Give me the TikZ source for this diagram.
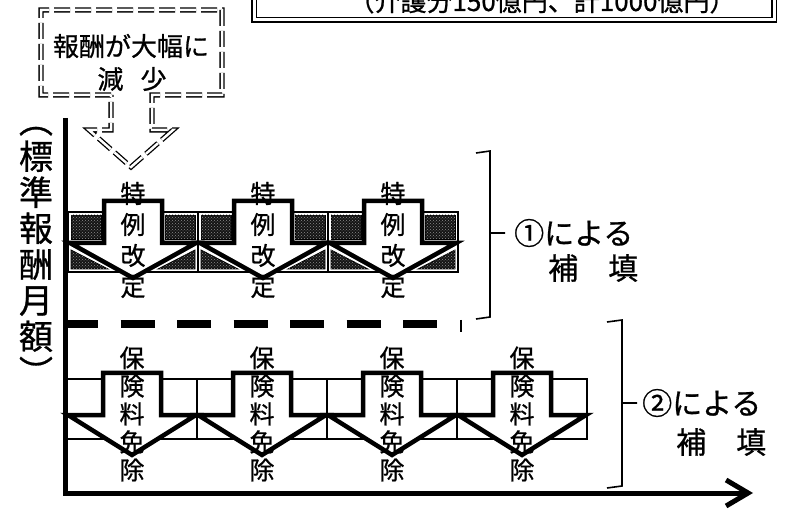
\documentclass[tikz,border=0pt]{standalone}
\usepackage{fontspec}
\setmainfont{Noto Sans CJK JP}[FakeBold=0.8]
\usetikzlibrary{arrows.meta, patterns}

\begin{document}
\begin{tikzpicture}[
  x=1pt, y=-1pt,
  arrowshape/.style={draw, fill=white, line width=4.5pt, line join=miter},
  cellline/.style={draw, line width=1.2pt},
  darkcell/.style={draw, line width=0.8pt, fill=black!92, postaction={pattern=crosshatch dots, pattern color=black!45}},
  vtext/.style={align=center, inner sep=0pt, font=\fontsize{25}{31}\selectfont},
  vtextb/.style={align=center, inner sep=0pt, font=\fontsize{25}{28}\selectfont},
  dashbox/.style={double, double distance=2.5pt, line width=1.3pt, dash pattern=on 16pt off 5pt},
  sidetxt/.style={anchor=west, inner sep=0pt, font=\fontsize{30}{30}\selectfont},
  brk/.style={line width=1.6pt}
]
\useasboundingbox (0,0) rectangle (787,510);
\clip (0,0) rectangle (787,510);

% 上の枠（見切れ）
\draw[double, double distance=3pt, line width=1.5pt] (254,-30) rectangle (774,20);
\node[anchor=base, inner sep=0pt, font=\fontsize{26}{26}\selectfont] (kei) at (542,11) {（介護分150億円、計1000億円）};

% 報酬が大幅に減少
\draw[dashbox] (111,95) -- (41,95) -- (41,10) -- (222,10) -- (222,95) -- (152,95) -- (152,130)
  -- (173,130) -- (131,167) -- (89,130) -- (111,130) -- cycle;
\node[font=\fontsize{26}{26}\selectfont] (genshou) at (131,46) {報酬が大幅に};
\node[font=\fontsize{26}{26}\selectfont] (gen) at (132,79) {減\hspace{17pt}少};

% ①による補填
\foreach \x/\n in {68/1,198/2,328/3}{
  \draw[cellline] (\x,212) rectangle (\x+130,272) (\x,242) -- (\x+130,242);
  \path[darkcell] (\x+3,215) rectangle (\x+33,239);
  \path[darkcell] (\x+97,215) rectangle (\x+127,239);
  \path[darkcell] (\x+3,250) -- (\x+3,269) -- (\x+40,269) -- cycle;
  \path[darkcell] (\x+127,250) -- (\x+127,269) -- (\x+90,269) -- cycle;
  \draw[arrowshape] (\x+36,201) -- (\x+94,201) -- (\x+94,243) -- (\x+128,243)
    -- (\x+65,278) -- (\x+2,243) -- (\x+36,243) -- cycle;
  \node[vtext] (toku\n) at (\x+65,240) {特\\例\\改\\定};
}
\draw[line width=8pt, dash pattern=on 34pt off 22.5pt] (64,324) -- (440,324);
\draw[line width=1.2pt] (461,320) -- (461,332);

% ②による補填
\foreach \x/\n in {67/1,197/2,327/3,457/4}{
  \draw[cellline] (\x,379) rectangle (\x+130,439) (\x,415) -- (\x+130,415);
  \draw[arrowshape] (\x+36,373) -- (\x+94,373) -- (\x+94,415) -- (\x+129,415)
    -- (\x+65,455) -- (\x+1,415) -- (\x+36,415) -- cycle;
  \node[vtextb] (hoken\n) at (\x+65,414) {保\\険\\料\\免\\除};
}

% 軸
\draw[line width=5pt, line join=miter, -{Straight Barb[length=22pt, width=26pt]}]
  (65,118) -- (65,493) -- (753,493);
\node[align=center, inner sep=0pt, font=\fontsize{34}{36}\selectfont] (jiku) at (36,256)
  {︵\\標\\準\\報\\酬\\月\\額\\︶};

% かっこと説明
\draw[brk] (476,153) -- (490,151) -- (490,317) -- (476,319) (490,233) -- (505,233);
\node[sidetxt] (h1) at (514,233) {①による};
\node[sidetxt] (h1b) at (548,268) {補　填};
\draw[brk] (607,322) -- (622,320) -- (622,486) -- (607,488) (622,403) -- (637,403);
\node[sidetxt] (h2) at (642,403) {②による};
\node[sidetxt] (h2b) at (676,442) {補　填};
\end{tikzpicture}
\end{document}
